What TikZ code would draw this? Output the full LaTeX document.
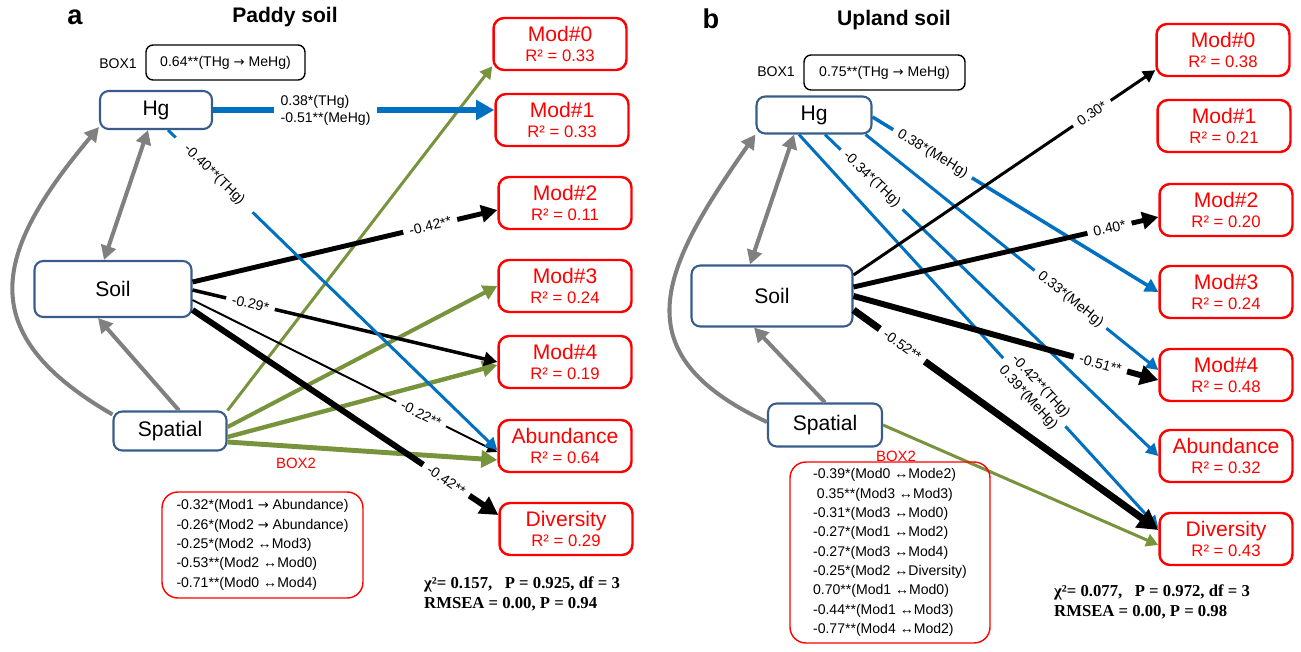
\documentclass[tikz,border=0pt]{standalone}
\usepackage{fontspec}
\setmainfont{Liberation Sans}
\newfontfamily\statfont{Liberation Serif}
\newfontfamily\arrowfont{DejaVu Sans}
\usetikzlibrary{arrows.meta}

\definecolor{varblue}{RGB}{56,93,138}
\definecolor{hgblue}{RGB}{0,112,192}
\definecolor{spgreen}{RGB}{119,147,60}
\definecolor{linkgray}{RGB}{128,128,128}

\newcommand{\toarrow}{{\arrowfont\fontsize{7.5}{9}\selectfont →}}

\begin{document}
\begin{tikzpicture}[x=0.02cm, y=-0.02cm,
  varbox/.style={draw=varblue, line width=1.2pt, rounded corners=5pt, fill=white, inner sep=0pt, font=\fontsize{12}{14}\selectfont},
  modbox/.style={draw=red, line width=1.4pt, rounded corners=6pt, text=red, align=center, minimum width=2.66cm, minimum height=1.04cm, inner sep=0pt, font=\fontsize{12}{11.7}\selectfont},
  tagbox/.style={draw=black, line width=0.8pt, rounded corners=4pt, minimum height=0.7cm, font=\fontsize{8}{9.6}\selectfont},
  corbox/.style={draw=red, line width=0.8pt, rounded corners=9pt, align=left, font=\fontsize{8}{11}\selectfont},
  coef/.style={fill=white, text=black, inner xsep=3.5pt, inner ysep=1pt, font=\fontsize{8}{9.6}\selectfont},
  small/.style={font=\fontsize{8}{9.6}\selectfont},
  fitline/.style={anchor=west, align=left, font=\statfont\bfseries\fontsize{9.5}{11.3}\selectfont},
  arr/.style={-{Triangle[length=3.5pt 2, width=3.5pt 2.2]}},
  arrs/.style={{Triangle[length=3.5pt 2, width=3.5pt 2.2]}-{Triangle[length=3.5pt 2, width=3.5pt 2.2]}},
  graylink/.style={line width=2.3pt, linkgray}]
  \useasboundingbox (0,0) rectangle (1301,652);

  % a. paddy soil
  \begin{scope}
    \node[font=\fontsize{15.5}{18}\selectfont\bfseries] (tag-a) at (75,17) {a};
    \node[font=\fontsize{12}{14}\selectfont\bfseries] (title-a) at (285,17) {Paddy soil};
    \node[small] (box1lab-a) at (118,64) {BOX1};
    \node[tagbox, minimum width=3.18cm] (box1-a) at (225.5,62.5) {0.64**(THg \toarrow\ MeHg)};

    \node[varbox, minimum width=2.24cm, minimum height=0.76cm] (hg-a) at (156,110) {Hg};
    \node[varbox, minimum width=3.14cm, minimum height=1.12cm] (soil-a) at (113,289) {Soil};
    \node[varbox, minimum width=2.26cm, minimum height=0.78cm] (spat-a) at (170,431) {Spatial};

    \foreach \nm/\lab/\x/\y/\r in {mod0/Mod\#0/560/44/0.33, mod1/Mod\#1/562/120/0.33,
        mod2/Mod\#2/565/203/0.11, mod3/Mod\#3/565/286/0.24, mod4/Mod\#4/565/362/0.19,
        abun/Abundance/565/446/0.64, div/Diversity/566/529/0.29} {
      \node[modbox] (\nm-a) at (\x,\y) {\lab\\{\fontsize{9.5}{11.7}\selectfont R² = \r}};
    }

    % gray links
    \draw[graylink, arrs] ([xshift=-0.16cm]hg-a.south) -- ([xshift=-0.18cm]soil-a.north);
    \draw[graylink, arr] ([xshift=0.18cm]spat-a.north) -- ([xshift=-0.3cm]soil-a.south);
    \draw[graylink, arr] ([yshift=-0.08cm]spat-a.north west) to[out=150, in=230, looseness=1.45] ([yshift=0.06cm]hg-a.south west);

    % green paths
    \draw[line width=1.7pt, spgreen, arr] (spat-a.north east) -- ([yshift=0.1cm]mod0-a.south west);
    \draw[line width=2.3pt, spgreen, arr] ([yshift=0.08cm]spat-a.east) -- (mod3-a.west);
    \draw[line width=2.5pt, spgreen, arr] ([yshift=-0.12cm]spat-a.east) -- ([yshift=-0.06cm]mod4-a.west);
    \draw[line width=2.8pt, spgreen, arr] ([yshift=-0.22cm]spat-a.east) -- ([yshift=-0.28cm]abun-a.west);

    % black paths
    \draw[line width=2.8pt, arr] ([yshift=0.14cm]soil-a.east) -- ([yshift=-0.14cm]mod2-a.west)
      node[coef, sloped, pos=0.78] {-0.42**};
    \draw[line width=2pt, arr] ([yshift=-0.02cm]soil-a.east) -- (mod4-a.west)
      node[coef, sloped, pos=0.19] {-0.29*};
    \draw[line width=1.1pt, arr] ([yshift=-0.22cm]soil-a.east) -- ([yshift=-0.12cm]abun-a.west)
      node[coef, sloped, pos=0.75] {-0.22**};
    \draw[line width=3.4pt, arr] ([yshift=-0.42cm]soil-a.east) -- ([yshift=0.28cm]div-a.west)
      node[coef, sloped, pos=0.83] {-0.42**};

    % blue paths
    \draw[line width=3.4pt, hgblue, arr] (hg-a.east) -- ([yshift=0.2cm]mod1-a.west)
      node[coef, pos=0.40, align=left] {0.38*(THg)\\-0.51**(MeHg)};
    \draw[line width=1.7pt, hgblue, arr] ([xshift=0.24cm]hg-a.south) -- ([yshift=-0.08cm]abun-a.west)
      node[coef, sloped, pos=0.14, inner xsep=8pt] {-0.40**(THg)};

    \node[text=red, font=\fontsize{8.5}{10}\selectfont] (box2lab-a) at (296,463) {BOX2};
    \node[corbox, minimum width=4.02cm, minimum height=2.12cm] (box2-a) at (262.5,545)
      {-0.32*(Mod1 \toarrow\ Abundance)\\-0.26*(Mod2 \toarrow\ Abundance)\\-0.25*(Mod2 ↔Mod3)\\-0.53**(Mod2 ↔Mod0)\\-0.71**(Mod0 ↔Mod4)};

    \node[fitline] (fit-a) at (418,594) {χ²= 0.157,\ \ \ P = 0.925, df = 3\\RMSEA = 0.00, P = 0.94};
  \end{scope}

  % b. upland soil
  \begin{scope}
    \node[font=\fontsize{15.5}{18}\selectfont\bfseries] (tag-b) at (711,19) {b};
    \node[font=\fontsize{12}{14}\selectfont\bfseries] (title-b) at (894,20) {Upland soil};
    \node[small] (box1lab-b) at (776,72) {BOX1};
    \node[tagbox, minimum width=3.22cm] (box1-b) at (884.5,72.5) {0.75**(THg \toarrow\ MeHg)};

    \node[varbox, minimum width=2.3cm, minimum height=0.74cm] (hg-b) at (814,115) {Hg};
    \node[varbox, minimum width=3.22cm, minimum height=1.22cm] (soil-b) at (772,296) {Soil};
    \node[varbox, minimum width=2.28cm, minimum height=0.86cm] (spat-b) at (825,425) {Spatial};

    \foreach \nm/\lab/\x/\y/\r in {mod0/Mod\#0/1223/50/0.38, mod1/Mod\#1/1224/126/0.21,
        mod2/Mod\#2/1226/210/0.20, mod3/Mod\#3/1226/292/0.24, mod4/Mod\#4/1226/375/0.48,
        abun/Abundance/1226/456/0.32, div/Diversity/1226/539/0.43} {
      \node[modbox] (\nm-b) at (\x,\y) {\lab\\{\fontsize{9.5}{11.7}\selectfont R² = \r}};
    }

    % gray links
    \draw[graylink, arrs] ([xshift=-0.4cm]hg-b.south) -- ([xshift=-0.44cm]soil-b.north);
    \draw[graylink, arr] (spat-b.north) -- ([xshift=-0.36cm]soil-b.south);
    \draw[graylink, arr] ([yshift=0.06cm]spat-b.west) to[out=155, in=235, looseness=1.45] (hg-b.south west);

    % blue paths
    \draw[line width=2pt, hgblue, arr] ([yshift=-0.04cm]hg-b.east) -- (mod3-b.west)
      node[coef, sloped, pos=0.21] {0.38*(MeHg)};
    \draw[line width=1.7pt, hgblue, arr] ([xshift=-0.14cm]hg-b.south east) -- ([yshift=0.1cm]mod4-b.west)
      node[coef, sloped, pos=0.70] {0.33*(MeHg)};
    \draw[line width=1.7pt, hgblue, arr] ([xshift=0.22cm]hg-b.south) -- (abun-b.west)
      node[coef, sloped, pos=0.14] {-0.34*(THg)};
    \draw[line width=1.7pt, hgblue, arr] ([xshift=-0.3cm]hg-b.south) -- ([yshift=0.22cm]div-b.west)
      node[coef, sloped, pos=0.655, align=center] {-0.42**(THg)\\0.39*(MeHg)};

    % black paths
    \draw[line width=1.7pt, arr] ([yshift=0.42cm]soil-b.east) -- ([yshift=0.14cm]mod0-b.south west)
      node[coef, sloped, pos=0.79] {0.30*};
    \draw[line width=2.8pt, arr] ([yshift=0.18cm]soil-b.east) -- ([yshift=-0.14cm]mod2-b.west)
      node[coef, sloped, pos=0.84] {0.40*};
    \draw[line width=3.4pt, arr] (soil-b.east) -- ([yshift=-0.1cm]mod4-b.west)
      node[coef, sloped, pos=0.81] {-0.51**};
    \draw[line width=4pt, arr] ([yshift=-0.28cm]soil-b.east) -- ([yshift=0.18cm]div-b.west)
      node[coef, sloped, pos=0.16] {-0.52**};

    % green path
    \draw[line width=1.7pt, spgreen, arr] (spat-b.east) -- ([yshift=-0.12cm]div-b.west);

    \node[text=red, font=\fontsize{8.5}{10}\selectfont] (box2lab-b) at (896,456) {BOX2};
    \node[corbox, minimum width=4.0cm, minimum height=3.62cm] (box2-b) at (890,552.5)
      {-0.39*(Mod0 ↔Mode2)\\\ 0.35**(Mod3 ↔Mod3)\\-0.31*(Mod3 ↔Mod0)\\-0.27*(Mod1 ↔Mod2)\\-0.27*(Mod3 ↔Mod4)\\-0.25*(Mod2 ↔Diversity)\\0.70**(Mod1 ↔Mod0)\\-0.44**(Mod1 ↔Mod3)\\-0.77**(Mod4 ↔Mod2)};

    \node[fitline] (fit-b) at (1048,602) {χ²= 0.077,\ \ \ P = 0.972, df = 3\\RMSEA = 0.00, P = 0.98};
  \end{scope}
\end{tikzpicture}
\end{document}
